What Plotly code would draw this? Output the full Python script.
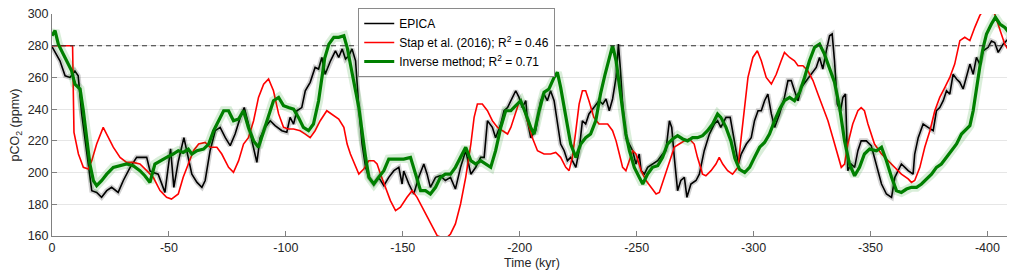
import plotly.graph_objects as go

# ---------------- data ----------------
epica_time = [0, -3.4, -5.6, -7.7, -9.8, -11.2, -12.7, -14.8, -17.0, -19.1, -21.2, -23.4, -25.5, -28.3, -30.5,
              -33.3, -36.2, -40.5, -41.9, -43.3, -45.4, -48.3, -49.7, -50.7, -52.1, -54.0, -56.4, -58.0, -59.8,
              -62.0, -64.1, -65.5, -67.6, -69.8, -71.9, -74.1, -76.2, -78.3, -80.5, -82.2, -84.0, -85.5, -86.9,
              -87.6, -89.0, -91.2, -93.3, -95.4, -98.3, -100.4, -101.8, -103.3, -104.7, -106.8, -108.3, -110.4,
              -112.5, -114.0, -115.4, -116.8, -119.1, -121.2, -122.6, -124.1, -125.5, -126.9, -128.3, -129.8,
              -131.2, -132.6, -134.1, -135.5, -137.6, -139.7, -141.9, -144.0, -146.2, -148.3, -149.7, -150.4,
              -152.6, -154.7, -156.8, -159.0, -160.4, -161.8, -164.0, -166.1, -168.2, -170.4, -172.5, -174.7,
              -176.9, -179.1, -181.2, -183.3, -184.8, -186.2, -188.3, -189.7, -191.9, -193.3, -194.8, -196.2,
              -198.3, -199.7, -201.1, -202.6, -203.3, -204.7, -206.8, -209.0, -210.4, -211.8, -213.2, -214.7,
              -216.1, -217.5, -219.0, -220.4, -221.8, -224.0, -225.4, -226.8, -228.2, -229.6, -231.7, -233.9,
              -235.5, -236.9, -238.3, -239.7, -241.2, -242.2, -243.0, -244.0, -245.4, -246.9, -248.3, -249.7,
              -251.1, -251.9, -253.3, -254.7, -256.8, -259.0, -261.1, -262.5, -264.0, -265.0, -266.1, -267.5,
              -268.9, -270.4, -271.5, -273.2, -275.4, -276.8, -278.9, -281.1, -283.2, -284.6, -286.0, -288.2,
              -290.0, -291.7, -292.6, -293.5, -294.7, -296.9, -299.0, -300.4, -301.9, -303.3, -304.7, -306.1,
              -307.6, -309.0, -311.1, -313.2, -314.7, -316.1, -317.5, -319.0, -320.4, -322.5, -324.7, -326.8,
              -328.2, -329.6, -331.1, -332.5, -333.6, -334.6, -335.8, -337.2, -338.2, -339.3, -340.3, -341.7,
              -343.2, -344.6, -346.0, -348.2, -350.3, -351.7, -352.6, -354.7, -356.8, -359.0, -360.4, -361.8,
              -363.2, -364.7, -366.1, -368.2, -368.9, -370.4, -372.5, -374.6, -376.8, -378.2, -379.6, -381.1,
              -382.5, -383.9, -385.3, -386.8, -388.2, -389.6, -391.0, -392.5, -393.9, -395.3, -396.7, -398.2,
              -400.3, -401.7, -403.1, -404.6, -406.7, -408.8, -410.3]
epica_co2 = [279.4, 270.5, 261, 260, 264, 261, 237, 214, 188.6, 187.5, 184.4, 188.6, 190.7, 187.5, 195,
             203, 209.6, 209.6, 201, 200, 199, 187.5, 203, 215, 190.7, 207, 222, 212, 199,
             193.8, 190.7, 195, 213.8, 226.4, 228.5, 222, 217, 224.3, 234.8, 241, 230.6, 220, 211.7,
             206.4, 222, 228.5, 232.7, 229.6, 226.4, 225.4, 234.8, 230.6, 239, 241, 251.6, 256.9,
             266.3, 265.3, 272.6, 262, 270.5, 276.8, 272.6, 278, 271.6, 273.7, 278, 270.5,
             241, 218, 203.3, 197, 192.8, 197, 191.7, 197, 201.2, 203.3, 192.8, 201,
             192.8, 186.5, 197, 205.4, 199, 190.7, 197, 198, 195, 197, 189.6, 203.3,
             213.8, 199, 203.3, 209.6, 209.6, 232.7, 228.5, 222, 230.6, 239, 241, 245.3,
             251.6, 247.4, 241, 245.3, 232.7, 222, 226.4, 245.3, 249.5, 245.3, 251.6, 245.3,
             232.7, 218, 213.8, 207.5, 209.6, 203.3, 213.8, 232.7, 230.6, 237, 241, 245.3,
             243.2, 246.4, 239, 246.4, 260, 281, 266.3, 243.2, 222, 218, 213.8, 205.4,
             211.7, 201.2, 199, 203.3, 205.4, 207.5, 211.7, 213.8, 232.7, 228.5, 209.6, 188.6,
             195, 197, 184.4, 192.8, 195, 199, 213.8, 224.3, 230.6, 232.7, 228.5, 234.8,
             234.8, 220, 212, 205.4, 211.7, 218, 222, 232.7, 239, 239, 245.3, 249.5,
             237, 228.5, 237, 247.4, 258, 258, 251.6, 245.3, 253.7, 258, 262, 266.3,
             272.6, 265.3, 276.8, 286.3, 287.4, 270.5, 243.2, 239, 247.4, 249.5, 201.2, 205.4,
             203.3, 213.8, 220, 220, 217, 209.6, 203.3, 192.8, 186.5, 184.4, 197, 201.2,
             205.4, 203.3, 201.2, 199, 211.7, 222, 230.6, 228.5, 226.4, 239, 241, 245.3,
             251.6, 249.5, 262, 259, 256.9, 252.7, 260, 268.4, 262, 272.6, 268.4, 276.8,
             279, 283, 282, 275.8, 281, 284.2, 279]

stap_time = [0, -8.8, -9.4, -11.3, -13.4, -15.5, -17.0, -19.1, -21.9, -24.1, -26.2, -29.1, -31.9, -34.7,
             -37.6, -40.5, -43.3, -46.2, -49.0, -51.1, -54.0, -56.1, -58.3, -60.5, -62.7, -65.5, -67.6,
             -70.5, -72.6, -75.5, -77.6, -79.8, -81.9, -84.0, -86.2, -88.3, -90.5, -92.6, -94.7, -96.9,
             -99.0, -101.1, -103.3, -106.1, -108.3, -110.4, -112.5, -114.7, -117.5, -120.5, -122.6, -124.8,
             -126.2, -127.6, -129.8, -131.2, -133.3, -135.5, -137.6, -139.0, -140.5, -142.6, -144.7, -146.9,
             -149.0, -151.8, -154.0, -156.1, -158.3, -160.4, -162.5, -164.7, -166.8, -168.9, -170.4, -172.5,
             -174.7, -176.9, -179.1, -180.5, -181.9, -184.0, -186.2, -188.3, -190.5, -192.6, -194.8, -196.2,
             -197.6, -199.7, -201.1, -203.3, -205.4, -207.6, -210.4, -213.2, -215.4, -217.5, -219.7, -221.1,
             -222.5, -224.0, -225.4, -226.8, -228.2, -229.6, -231.7, -233.9, -235.5, -237.6, -239.7, -241.2,
             -242.6, -244.0, -245.4, -246.9, -248.3, -249.7, -251.9, -254.0, -256.1, -258.3, -259.7, -261.8,
             -264.0, -266.1, -268.2, -270.4, -272.5, -274.6, -276.0, -278.2, -279.6, -281.8, -283.9, -285.3,
             -286.8, -288.9, -291.0, -293.3, -294.7, -296.2, -297.6, -299.7, -301.6, -303.3, -305.4, -307.6,
             -309.7, -311.8, -313.2, -315.4, -317.5, -319.0, -321.1, -323.2, -325.4, -327.5, -329.6, -331.8,
             -333.9, -336.1, -337.5, -338.9, -340.3, -342.4, -344.6, -346.0, -347.4, -348.9, -350.3, -351.7,
             -354.7, -357.5, -360.4, -363.2, -366.1, -367.5, -368.9, -371.1, -373.2, -375.4, -377.5, -379.6,
             -381.8, -383.9, -386.0, -388.2, -390.3, -392.5, -394.6, -396.7, -398.5, -401.0, -403.1, -405.3,
             -407.4, -409.6]
stap_co2 = [280, 280, 225.4, 211.7, 203.3, 202.2, 207.5, 218, 228.5, 222, 216, 209.6, 206.4, 206.4,
            205.4, 201.2, 197, 188.6, 184.4, 183.3, 186.5, 197, 205.4, 213.8, 218, 219, 216,
            216, 211.7, 203.3, 200.1, 207.5, 218, 222, 232.7, 247.4, 255.8, 259, 251.6, 237,
            228.5, 227.5, 227.5, 226.4, 224.3, 222, 226.4, 232.7, 239, 235.9, 233.8, 228.5,
            218, 211.7, 203.3, 199, 202.2, 207.5, 207.5, 205.4, 199, 190.7, 182.3, 176,
            178.2, 184.4, 188.6, 184.4, 178.2, 171.8, 165.5, 160.2, 159, 159, 161.3, 167.6,
            180.2, 197, 218, 234.8, 243.2, 243.2, 239, 232.7, 228.5, 226.4, 224.3, 228.5,
            234.8, 244.3, 243.2, 232.7, 222, 213.8, 211.7, 211.7, 212.7, 209.6, 203.3, 201.2,
            209.6, 226.4, 243.2, 251.6, 251.6, 245.3, 234.8, 230.6, 230.6, 230.6, 226.4, 220,
            211.7, 203.3, 201.2, 207.5, 213.8, 211.7, 201.2, 195, 190.7, 186.5, 187.5, 197,
            207.5, 216, 218, 220, 221.2, 218, 209.6, 199, 198, 201.2, 205.4, 209.6,
            205.4, 201.2, 199, 203.3, 222, 243.2, 260, 272.6, 276.8, 270.5, 260, 255.8,
            262, 270.5, 275.8, 272.6, 270.5, 267.4, 267.4, 264.2, 258, 249.5, 241, 232.7,
            222, 209.6, 203.3, 205.4, 218, 230.6, 239, 241, 239, 230.6, 224.3, 218,
            211.7, 207.5, 203.3, 199, 196, 193.8, 195, 203.3, 216, 226.4, 239, 247.4,
            253.7, 260, 268.4, 283.2, 285.3, 283.2, 291.6, 299, 303, 305, 300, 289.5,
            281, 275.8]

inv_time = [0, -1.3, -2.7, -4.1, -6.3, -8.4, -9.8, -12.0, -13.4, -14.8, -16.2, -17.7, -19.1, -21.2, -23.4,
            -26.2, -29.1, -31.9, -34.7, -37.6, -39.7, -41.9, -44.0, -46.2, -49.0, -51.8, -54.0, -56.1,
            -58.3, -59.8, -62.0, -64.8, -67.0, -69.1, -71.2, -73.4, -75.5, -77.6, -79.8, -81.9, -84.0,
            -86.2, -88.3, -90.5, -92.6, -94.7, -96.9, -99.0, -101.1, -103.3, -105.4, -107.5, -109.7,
            -111.8, -114.0, -115.4, -116.6, -118.4, -120.5, -122.6, -124.8, -126.2, -128.3, -129.8,
            -131.2, -132.6, -134.1, -135.5, -137.6, -139.7, -141.9, -144.0, -146.9, -150.4, -153.3,
            -155.4, -157.6, -159.7, -161.8, -164.0, -166.1, -168.2, -170.4, -172.5, -174.7, -176.9,
            -179.1, -181.2, -183.3, -185.5, -187.6, -189.7, -191.9, -194.0, -196.2, -198.3, -200.4,
            -202.6, -204.7, -206.1, -208.3, -210.4, -212.5, -214.7, -216.1, -217.5, -219.7, -221.8,
            -224.0, -226.1, -228.2, -230.3, -232.5, -234.6, -236.5, -237.6, -239.7, -241.2, -242.6,
            -244.0, -245.4, -246.9, -249.0, -251.1, -252.6, -254.7, -256.8, -259.0, -261.1, -263.2,
            -265.4, -267.5, -269.7, -271.8, -273.9, -276.0, -278.2, -280.3, -282.5, -284.6, -286.0,
            -288.2, -290.3, -292.0, -294.0, -296.2, -298.3, -300.4, -302.6, -304.7, -306.8, -309.0,
            -311.1, -313.2, -315.4, -317.5, -319.7, -321.8, -323.9, -326.1, -328.2, -330.3, -332.5,
            -334.6, -336.8, -338.9, -341.0, -343.2, -345.3, -347.4, -349.6, -352.6, -354.7, -356.8,
            -359.0, -361.1, -363.2, -365.4, -367.5, -369.7, -371.8, -373.9, -376.1, -378.2, -380.3,
            -382.5, -384.6, -386.8, -388.9, -391.0, -392.5, -393.9, -395.3, -396.7, -398.2, -399.6,
            -401.7, -403.4, -405.3, -407.4, -409.6, -411.0]
inv_co2 = [286.3, 289.5, 281, 276.8, 270.5, 264.2, 255.8, 252.7, 239, 222, 205.4, 194.9, 191.7, 194.9, 199,
           203.3, 204.3, 205.4, 204.3, 201.2, 198, 193.8, 205.4, 207.5, 209.6, 211.7, 213.8, 212.7,
           214.8, 211.7, 213.8, 214.8, 218, 226.4, 232.7, 239, 239, 232.7, 233.8, 239, 228.5,
           220, 216, 226.4, 237, 245.3, 247.4, 242.2, 241, 240, 234.8, 228.5, 226.4,
           230.6, 245.3, 260, 272, 281, 285.3, 285.3, 286.3, 279, 264.2, 251.6,
           241, 224.3, 209.6, 197, 192.8, 197, 201.2, 208.5, 208.5, 208.5, 209.6,
           199, 188.6, 188.6, 186.5, 190.7, 197, 199, 199, 203.3, 209.6, 216,
           207.5, 205.4, 207.5, 205.4, 203.3, 213.8, 228.5, 239, 239, 242.2, 245.3,
           237, 228.5, 224.3, 239, 250.6, 252.7, 260, 263.2, 253.7, 234.8, 218,
           209.6, 218, 222, 224.3, 232.7, 250, 262, 268.4, 280, 270.5, 255.8,
           239, 224.3, 213.8, 203.3, 197, 192.8, 199, 203.3, 204.3, 209.6, 218,
           221.2, 223.3, 221.2, 220, 222, 222, 223.3, 226.4, 230.6, 236.9, 234.8,
           228.5, 220, 209, 202, 200, 203.3, 209.6, 216, 219, 224.3, 232.7,
           240, 245.3, 247.4, 245.3, 250.6, 260, 270.5, 279, 281, 274.7, 266.3,
           257, 241, 220, 205.4, 198, 203.3, 211.7, 214.8, 213.8, 216, 207.5,
           197, 188.6, 187.5, 189.6, 190.7, 190.7, 192.8, 196, 199, 203.3, 205.4,
           209.6, 213.8, 218, 224.3, 227.5, 229.6, 239, 253.7, 266.3, 279, 287.4,
           293.7, 297.9, 293.7, 291.6, 287.4, 285.3]

x_tick_vals = [0, -50, -100, -150, -200, -250, -300, -350, -400]
x_tick_text = ["0", "-50", "-100", "-150", "-200", "-250", "-300", "-350", "-400"]
y_tick_vals = [160, 180, 200, 220, 240, 260, 280, 300]
preindustrial = 280

# ---------------- figure ----------------
FONT = "Liberation Sans, Arial, Helvetica, sans-serif"
fig = go.Figure()

fig.add_trace(go.Scatter(x=epica_time, y=epica_co2, mode="lines",
                         line=dict(color="rgba(0,0,0,0.18)", width=5),
                         showlegend=False, hoverinfo="skip"))
fig.add_trace(go.Scatter(x=epica_time, y=epica_co2, mode="lines", name="EPICA",
                         line=dict(color="black", width=1.6)))
fig.add_trace(go.Scatter(x=stap_time, y=stap_co2, mode="lines",
                         name="Stap et al. (2016); R<sup>2</sup> = 0.46",
                         line=dict(color="#ff0000", width=1.6)))
fig.add_trace(go.Scatter(x=inv_time, y=inv_co2, mode="lines",
                         line=dict(color="rgba(0,140,0,0.15)", width=9),
                         showlegend=False, hoverinfo="skip"))
fig.add_trace(go.Scatter(x=inv_time, y=inv_co2, mode="lines",
                         name="Inverse method; R<sup>2</sup> = 0.71",
                         line=dict(color="#008000", width=3.2)))

fig.add_shape(type="line", xref="paper", x0=0, x1=1, yref="y", y0=preindustrial, y1=preindustrial,
              line=dict(color="#333333", width=1.1, dash="5px,4px"), layer="above")

fig.update_layout(
    width=1007, height=267,
    margin=dict(l=44, r=3, t=6, b=39, autoexpand=False),
    paper_bgcolor="white", plot_bgcolor="white",
    font=dict(family=FONT, size=12, color="#262626"),
    legend=dict(x=0.319, y=1.027, xanchor="left", yanchor="top",
                bgcolor="white", bordercolor="#8a8a8a", borderwidth=1,
                font=dict(size=12, color="#000000"), itemwidth=30,
                tracegroupgap=0),
    xaxis=dict(range=[0, -410.5], tickvals=x_tick_vals, ticktext=x_tick_text, automargin=False,
               showgrid=False, zeroline=False, showline=True, linecolor="#808080", linewidth=1,
               ticks="inside", ticklen=5, tickcolor="#808080", ticklabeloverflow="allow",
               tickfont=dict(size=12.5, color="#262626"),
               title=dict(text="Time (kyr)", font=dict(size=12.5, color="#262626"), standoff=4)),
    yaxis=dict(range=[160, 300], tickvals=y_tick_vals, automargin=False,
               showgrid=True, gridcolor="#e6e6e6", gridwidth=1, zeroline=False,
               showline=True, linecolor="#808080", linewidth=1,
               ticks="inside", ticklen=5, tickcolor="#808080", ticklabeloverflow="allow",
               tickfont=dict(size=12.5, color="#262626"),
               title=dict(text="pCO<sub>2</sub> (ppmv)", font=dict(size=12.5, color="#262626"), standoff=6)),
)

fig.write_html("out.html")
